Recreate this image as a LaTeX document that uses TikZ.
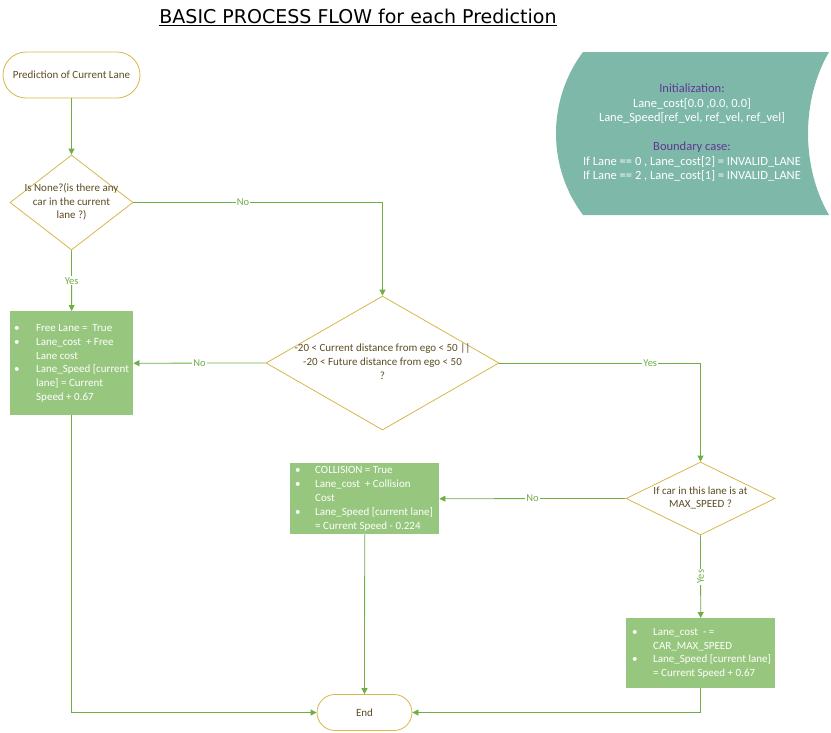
\documentclass[tikz,border=0pt]{standalone}
\usepackage{fontspec}
\setmainfont{Carlito}
\newfontfamily\titlefont{DejaVu Sans}
\usepackage{array}
\usetikzlibrary{shapes.geometric,arrows.meta}
\definecolor{flowline}{RGB}{112,173,71}
\definecolor{goldline}{RGB}{214,184,76}
\definecolor{nodetext}{RGB}{92,76,36}
\definecolor{boxgreen}{RGB}{151,199,126}
\definecolor{tealfill}{RGB}{126,184,168}
\definecolor{headpurple}{RGB}{96,56,150}
\newcommand{\dtext}[1]{\smash{\makebox[0pt]{\raisebox{-2.5pt}{\begin{tabular}{@{}c@{}}#1\end{tabular}}}}}
\begin{document}
\begin{tikzpicture}[x=1pt,y=-1pt,
  font=\fontsize{11}{13.8}\selectfont,
  terminal/.style={draw=goldline,line width=0.8pt,fill=white,text=nodetext,rounded corners=#1,inner sep=0pt},
  decision/.style={diamond,draw=goldline,line width=0.8pt,fill=white,text=nodetext,inner sep=0pt},
  actbox/.style={rectangle,fill=boxgreen,text=white,inner sep=0pt,anchor=north west},
  flow/.style={draw=flowline,line width=0.8pt,-{Triangle[length=6pt,width=6pt]}},
  lbl/.style={fill=white,text=flowline,inner sep=1pt,font=\fontsize{10.5}{12}\selectfont}
]
\useasboundingbox (0,0) rectangle (831,732);
\renewcommand{\arraystretch}{1}
% title
\node (title) at (358,17) {\titlefont\fontsize{19}{22}\selectfont\underline{BASIC PROCESS FLOW for each Prediction}};

% teal initialization shape
\path[fill=tealfill] (583,52) -- (829,52) .. controls (801,100) and (801,167) .. (829,215) -- (583,215) .. controls (547,167) and (547,100) .. (583,52);
\node[text=white,align=center,font=\fontsize{12.5}{14.5}\selectfont] (init) at (692,133)
 {\textcolor{headpurple}{Initialization:}\\
  Lane\_cost[0.0 ,0.0, 0.0]\\
  Lane\_Speed[ref\_vel, ref\_vel, ref\_vel]\\[14.5pt]
  \textcolor{headpurple}{Boundary case:}\\
  If Lane == 0 , Lane\_cost[2] = INVALID\_LANE\\
  If Lane == 2 , Lane\_cost[1] = INVALID\_LANE};

% nodes
\node[terminal=23pt,minimum width=137pt,minimum height=46pt] (start) at (71.5,75) {Prediction of Current Lane};
\node[decision,minimum width=123pt,minimum height=95pt] (d1) at (71.5,202.5)
 {\dtext{Is None?(is there any\\car in the current\\lane ?)}};
\node[actbox,minimum width=123pt,minimum height=104pt] (box1) at (10,311)
 {\makebox[123pt][l]{\begin{tabular}{@{\hspace{4pt}}p{22pt}@{}l@{}}
  \textbullet & Free Lane = ~True\\
  \textbullet & Lane\_cost ~+ Free\\ & Lane cost\\
  \textbullet & Lane\_Speed [current\\ & lane] = Current\\ & Speed + 0.67
 \end{tabular}}};
\node[decision,minimum width=233pt,minimum height=134pt] (d2) at (382.5,363)
 {\dtext{-20 < Current distance from ego < 50 ||\\-20 < Future distance from ego < 50\\?}};
\node[decision,minimum width=149pt,minimum height=73pt] (d3) at (700.5,498.5)
 {\dtext{If car in this lane is at\\MAX\_SPEED ?}};
\node[actbox,minimum width=149pt,minimum height=71pt] (box2) at (290,463)
 {\makebox[149pt][l]{\begin{tabular}{@{\hspace{5pt}}p{20pt}@{}l@{}}
  \textbullet & COLLISION = True\\
  \textbullet & Lane\_cost ~+ Collision\\ & Cost\\
  \textbullet & Lane\_Speed [current lane]\\ & = Current Speed - 0.224
 \end{tabular}}};
\node[actbox,minimum width=149pt,minimum height=70pt] (box3) at (626,618)
 {\makebox[149pt][l]{\begin{tabular}{@{\hspace{6pt}}p{21pt}@{}l@{}}
  \textbullet & Lane\_cost ~- =\\ & CAR\_MAX\_SPEED\\
  \textbullet & Lane\_Speed [current lane]\\ & = Current Speed + 0.67
 \end{tabular}}};
\node[terminal=18pt,minimum width=95pt,minimum height=36pt] (end) at (364.5,712.5) {End};

% connectors
\draw[flow] (start) -- (d1);
\draw[flow] (d1) -- node[lbl] {Yes} (box1);
\draw[flow] (d1.east) -| node[lbl,pos=0.22] {No} (d2.north);
\draw[flow] (d2.west) -- node[lbl] {No} (box1.east);
\draw[flow] (d2.east) -| node[lbl,pos=0.375] {Yes} (d3.north);
\draw[flow] (d3.west) -- node[lbl] {No} (box2.east);
\draw[flow] (d3.south) -- node[lbl,rotate=90] {Yes} (box3.north);
\draw[flow] (box2.south) -- (end.north);
\draw[flow] (box1.south) |- (end.west);
\draw[flow] (box3.south) |- (end.east);
\end{tikzpicture}
\end{document}
